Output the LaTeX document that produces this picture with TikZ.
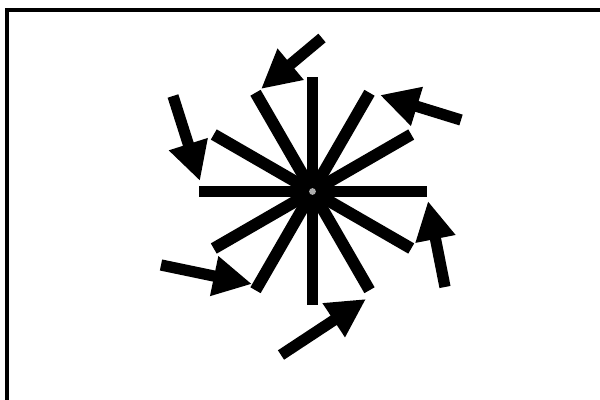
\documentclass[tikz,border=0pt]{standalone}
\usetikzlibrary{arrows.meta}
\begin{document}
\begin{tikzpicture}[x=0.025cm,y=-0.025cm,
  spoke/.style={line width=8.4pt},
  pointer/.style={line width=8pt,-{Triangle[length=27.5pt,width=27pt]}},
  frameline/.style={line width=2.2pt}]
\useasboundingbox (0,0) rectangle (600,400);
\coordinate (f1) at (7,400);
\coordinate (f2) at (7,10);
\coordinate (f3) at (600,10);
\draw[frameline] (f1) -- (f2) -- (f3);
\coordinate (c) at (312.5,191.5);
\foreach \a in {0,30,...,330}{
  \path (c) ++({114*cos(\a)},{-114*sin(\a)}) coordinate (e\a);
  \draw[spoke] (c) -- (e\a);
}
\fill (c) circle[radius=14pt];
\fill[gray!65] (c) circle[radius=2.4pt];
\coordinate (t1) at (322,38);  \coordinate (h1) at (261,89);
\coordinate (t2) at (461,120); \coordinate (h2) at (380,95);
\coordinate (t3) at (173,96);  \coordinate (h3) at (200,181);
\coordinate (t4) at (161,265); \coordinate (h4) at (252,284);
\coordinate (t5) at (281,355); \coordinate (h5) at (366,299);
\coordinate (t6) at (445,287); \coordinate (h6) at (428,201);
\foreach \i in {1,...,6}{
  \draw[pointer] (t\i) -- (h\i);
}
\end{tikzpicture}
\end{document}
